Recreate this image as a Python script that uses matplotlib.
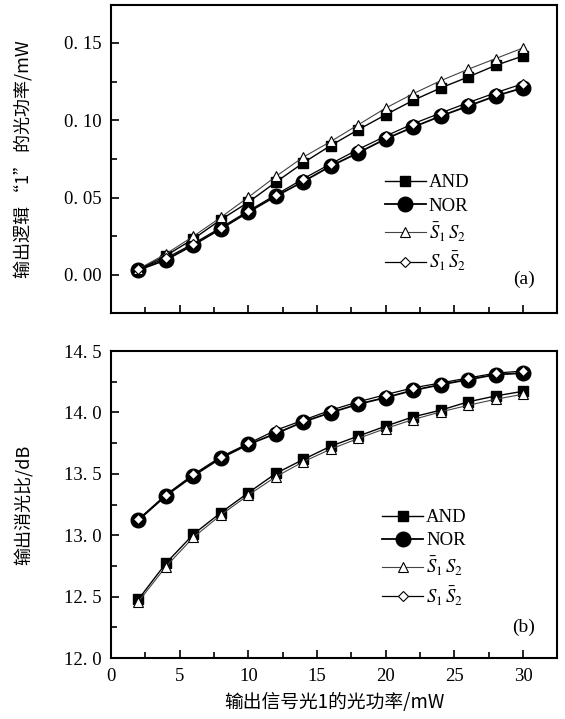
import matplotlib
matplotlib.use("Agg")
import matplotlib.pyplot as plt
from matplotlib.ticker import MultipleLocator, FuncFormatter

plt.rcParams['font.family'] = ['Liberation Serif', 'Noto Sans CJK SC']
plt.rcParams['mathtext.fontset'] = 'stix'

x = [2, 4, 6, 8, 10, 12, 14, 16, 18, 20, 22, 24, 26, 28, 30]

# (a) output power of logic "1"
and_a = [0.0035, 0.0125, 0.0233, 0.0358, 0.047, 0.060, 0.0725, 0.0837, 0.0939, 0.1036,
         0.1129, 0.1209, 0.128, 0.1355, 0.1416]
nor_a = [0.0032, 0.0097, 0.0194, 0.0298, 0.0406, 0.0509, 0.0604, 0.0704, 0.079, 0.088,
         0.0956, 0.1027, 0.1092, 0.1157, 0.121]
s1b_s2_a = [0.0039, 0.0136, 0.025, 0.0373, 0.0503, 0.0637, 0.0762, 0.0863, 0.0971, 0.1079,
            0.1172, 0.1256, 0.133, 0.1399, 0.1468]
s1_s2b_a = [0.0039, 0.0108, 0.0203, 0.0306, 0.0414, 0.0518, 0.0622, 0.0719, 0.0812, 0.0898,
            0.0978, 0.1047, 0.1114, 0.1178, 0.1237]

# (b) extinction ratio
and_b = [12.479, 12.772, 13.008, 13.184, 13.346, 13.503, 13.617, 13.725, 13.807, 13.888,
         13.964, 14.018, 14.086, 14.134, 14.172]
nor_b = [13.124, 13.322, 13.484, 13.628, 13.739, 13.828, 13.923, 13.999, 14.067, 14.121,
         14.180, 14.226, 14.267, 14.308, 14.32]
s1b_s2_b = [12.46, 12.745, 12.983, 13.165, 13.327, 13.476, 13.598, 13.701, 13.788, 13.869,
            13.942, 14.004, 14.058, 14.107, 14.148]
s1_s2b_b = [13.13, 13.33, 13.495, 13.639, 13.747, 13.855, 13.937, 14.018, 14.086, 14.145,
            14.2, 14.24, 14.28, 14.32, 14.337]

labels = ['AND', 'NOR', r'$\bar{S}_1\,S_2$', r'$S_1\,\bar{S}_2$']
cjk = ['Noto Sans CJK SC', 'Liberation Serif']


def draw(ax, series, leg_anchor):
    a, n, t, d = series
    ax.plot(x, a, '-', color='black', lw=1.0, marker='s', ms=7.5, mfc='black', label=labels[0])
    ax.plot(x, n, '-', color='black', lw=1.3, marker='o', ms=10.5, mfc='black', label=labels[1])
    ax.plot(x, t, '-', color='#444444', lw=0.8, marker='^', ms=7, mfc='white', mec='black',
            mew=0.8, label=labels[2])
    ax.plot(x, d, '-', color='black', lw=0.9, marker='D', ms=5.5, mfc='white', mec='black',
            mew=0.8, label=labels[3])
    ax.set_xlim(0, 32.48)
    ax.xaxis.set_major_locator(MultipleLocator(5))
    ax.xaxis.set_minor_locator(MultipleLocator(2.5))
    ax.tick_params(which='both', direction='in', top=False, right=False, labelsize=13.5,
                   width=1.2, pad=7)
    ax.tick_params(which='major', length=6)
    ax.tick_params(which='minor', length=4)
    for s in ax.spines.values():
        s.set_linewidth(1.5)
    ax.legend(frameon=False, fontsize=13.5, handlelength=2.2, handletextpad=0.15,
              labelspacing=0.32, borderpad=0, borderaxespad=0, loc='upper left',
              bbox_to_anchor=leg_anchor)


fig = plt.figure(figsize=(5.65, 7.19), dpi=100)
ax1 = fig.add_axes([0.1965, 0.5647, 0.7894, 0.4284])
ax2 = fig.add_axes([0.1965, 0.0848, 0.7894, 0.4270])

draw(ax1, (and_a, nor_a, s1b_s2_a, s1_s2b_a), (0.614, 0.45))
ax1.set_ylim(-0.0246, 0.1746)
ax1.yaxis.set_major_locator(MultipleLocator(0.05))
ax1.yaxis.set_minor_locator(MultipleLocator(0.025))
ax1.yaxis.set_major_formatter(FuncFormatter(lambda v, p: f'{v:.2f}'.replace('.', '. ')))
ax1.set_xticklabels([])
ax1.set_ylabel('输出逻辑 “1” 的光功率/mW', family=cjk, fontsize=13, va='center')
ax1.yaxis.set_label_coords(-0.195, 0.5)
ax1.text(0.95, 0.11, '(a)', transform=ax1.transAxes, ha='right', va='center', fontsize=14)

draw(ax2, (and_b, nor_b, s1b_s2_b, s1_s2b_b), (0.608, 0.485))
ax2.set_ylim(12.0, 14.5)
ax2.yaxis.set_major_locator(MultipleLocator(0.5))
ax2.yaxis.set_minor_locator(MultipleLocator(0.25))
ax2.yaxis.set_major_formatter(FuncFormatter(lambda v, p: f'{v:.1f}'.replace('.', '. ')))
ax2.set_ylabel('输出消光比/dB', family=cjk, fontsize=13, va='center')
ax2.yaxis.set_label_coords(-0.195, 0.5)
fig.text(0.591, 0.0236, '输出信号光1的光功率/mW', family=cjk, fontsize=13.5,
         ha='center', va='center')
ax2.text(0.95, 0.10, '(b)', transform=ax2.transAxes, ha='right', va='center', fontsize=14)

fig.savefig('out.png', dpi=100)
